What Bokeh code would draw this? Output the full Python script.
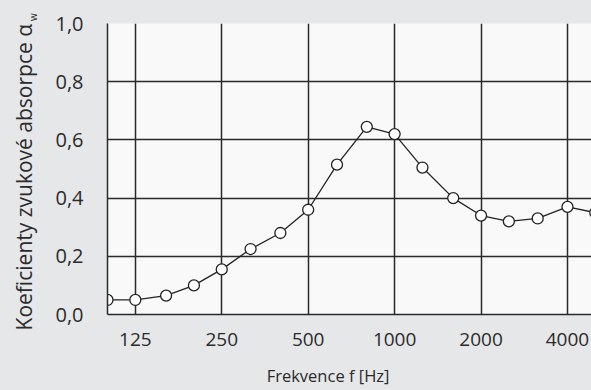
import math
from bokeh.plotting import figure
from bokeh.models import Range1d, FixedTicker, CustomJSTickFormatter, LinearAxis
from bokeh.embed import file_html
from bokeh.resources import INLINE

# Data (third-octave bands)
freqs = [100, 125, 160, 200, 250, 315, 400, 500, 630, 800, 1000, 1250, 1600, 2000, 2500, 3150, 4000, 5000]
alpha = [0.05, 0.05, 0.065, 0.10, 0.155, 0.225, 0.28, 0.36, 0.515, 0.645, 0.62, 0.505, 0.40, 0.34, 0.32, 0.33, 0.37, 0.35]
x_ticks = [125, 250, 500, 1000, 2000, 4000]
y_ticks = [0.0, 0.2, 0.4, 0.6, 0.8, 1.0]

BG = "#e6e7e8"
FONT = "Open Sans"
TXT = "#2b2b2b"
GRID = "#2a2a2a"
NB = "\u00a0"

p = figure(width=591, height=390, x_axis_type="log",
           x_range=Range1d(100, 4850), y_range=Range1d(0, 1),
           output_backend="svg", toolbar_location=None,
           min_border_left=107, min_border_top=23, min_border_bottom=76, min_border_right=0)
p.background_fill_color = "#f9f9f9"
p.border_fill_color = BG
p.outline_line_color = None

p.xaxis.ticker = FixedTicker(ticks=x_ticks)
p.xaxis.formatter = CustomJSTickFormatter(code="return String(Math.round(tick));")
p.yaxis.ticker = FixedTicker(ticks=y_ticks)
p.yaxis.formatter = CustomJSTickFormatter(code="return tick.toFixed(1).replace('.', ',');")
p.xaxis.minor_tick_line_color = None
p.yaxis.minor_tick_line_color = None
p.xaxis.major_tick_line_color = None
p.yaxis.major_tick_line_color = None

for ax in (p.xaxis, p.yaxis):
    ax.axis_line_color = GRID
    ax.axis_line_width = 1.5
    ax.major_label_text_font = FONT
    ax.major_label_text_color = TXT
    ax.axis_label_text_font = FONT
    ax.axis_label_text_color = TXT
    ax.axis_label_text_font_style = "normal"

p.xaxis.major_label_text_font_size = "19px"
p.yaxis.major_label_text_font_size = "20px"
p.xaxis.axis_label_text_font_size = "16.5px"

p.yaxis.major_label_standoff = 18
p.xaxis.major_label_standoff = 12
p.xaxis.axis_label = "Frekvence f [Hz]" + NB * 10
p.xaxis.axis_label_standoff = 15

# subscript "w" of alpha: small label pushed to the top end by leading no-break spaces
p.yaxis.axis_label = NB * 117 + "w"
p.yaxis.axis_label_text_font_size = "10px"
p.yaxis.axis_label_standoff = 12

# main y-axis title on an extra, tick-less axis further out
title_axis = LinearAxis(ticker=FixedTicker(ticks=[]), axis_line_color=None,
                        major_tick_out=0, major_tick_in=0, major_label_standoff=0,
                        minor_tick_line_color=None, major_tick_line_color=None,
                        axis_label="Koeficienty  zvukové absorpce α" + NB * 2,
                        axis_label_text_font=FONT, axis_label_text_color=TXT,
                        axis_label_text_font_style="normal",
                        axis_label_text_font_size="21px", axis_label_standoff=-14)
p.add_layout(title_axis, "left")

p.xgrid.grid_line_color = GRID
p.ygrid.grid_line_color = GRID
p.xgrid.grid_line_width = 1.5
p.ygrid.grid_line_width = 1.5

p.line(freqs, alpha, line_color="#222222", line_width=1.3)
p.scatter(freqs, alpha, size=11, fill_color="white", line_color="#222222", line_width=1.3)

html = file_html(p, INLINE)
html = html.replace("<head>", "<head><style>body{background:#e6e7e8;}</style>", 1)
open("out.html", "w").write(html)
